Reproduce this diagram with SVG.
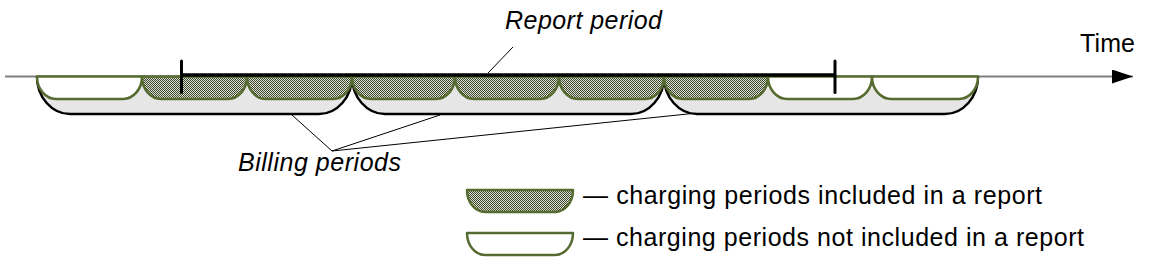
<svg xmlns="http://www.w3.org/2000/svg" width="1153" height="268" viewBox="0 0 1153 268">
  <style>
    .txt { font-family: "Liberation Sans", Arial, sans-serif; font-size: 25px; fill: #000; }
    .it { font-style: italic; }
    .billing { fill: #e6e6e6; stroke: #000; stroke-width: 2.5; }
    .chg { stroke: #556b2f; stroke-width: 2.5; stroke-linejoin: round; }
    .inc { fill: url(#hatch); }
    .exc { fill: #fff; }
    .lead { stroke: #000; stroke-width: 1; fill: none; }
  </style>
  <defs>
    <pattern id="hatch" width="2" height="2" patternUnits="userSpaceOnUse">
      <rect width="2" height="2" fill="#dcdcdc"/>
      <rect width="1" height="1" fill="#3f4a26"/>
      <rect x="1" y="1" width="1" height="1" fill="#3f4a26"/>
    </pattern>
    <marker id="arrow" markerWidth="22" markerHeight="14" refX="21" refY="7" orient="auto" markerUnits="userSpaceOnUse">
      <path d="M0,0 L21,7 L0,14 Z" fill="#000"/>
    </marker>
  </defs>

  <g id="connectors">
    <line id="time-axis" x1="5" y1="76.5" x2="1133" y2="76.5" stroke="#808080" stroke-width="2" marker-end="url(#arrow)"/>
    <line class="lead" x1="513" y1="47" x2="488" y2="73"/>
    <line class="lead" x1="332" y1="151" x2="292" y2="115"/>
    <line class="lead" x1="332" y1="151" x2="440" y2="115"/>
    <line class="lead" x1="332" y1="151" x2="697" y2="113"/>
  </g>

  <g id="billing-periods">
    <path class="billing" d="M37,76.5 A33,37.5 0 0 0 70,114 H319 A33,37.5 0 0 0 352,76.5"/>
    <path class="billing" d="M352,76.5 A33,37.5 0 0 0 385,114 H631 A33,37.5 0 0 0 664,76.5"/>
    <path class="billing" d="M664,76.5 A33,37.5 0 0 0 697,114 H945 A33,37.5 0 0 0 978,76.5"/>
  </g>

  <g id="charging-periods">
    <path class="chg exc" d="M37,76.5 A19,22.5 0 0 0 56,99 H123 A19,22.5 0 0 0 142,76.5 Z"/>
    <path class="chg inc" d="M142,76.5 A19,22.5 0 0 0 161,99 H228 A19,22.5 0 0 0 247,76.5 Z"/>
    <path class="chg inc" d="M247,76.5 A19,22.5 0 0 0 266,99 H333 A19,22.5 0 0 0 352,76.5 Z"/>
    <path class="chg inc" d="M352,76.5 A19,22.5 0 0 0 371,99 H436 A19,22.5 0 0 0 455,76.5 Z"/>
    <path class="chg inc" d="M455,76.5 A19,22.5 0 0 0 474,99 H540 A19,22.5 0 0 0 559,76.5 Z"/>
    <path class="chg inc" d="M559,76.5 A19,22.5 0 0 0 578,99 H645 A19,22.5 0 0 0 664,76.5 Z"/>
    <path class="chg inc" d="M664,76.5 A19,22.5 0 0 0 683,99 H749 A19,22.5 0 0 0 768,76.5 Z"/>
    <path class="chg exc" d="M768,76.5 A19,22.5 0 0 0 787,99 H853 A19,22.5 0 0 0 872,76.5 Z"/>
    <path class="chg exc" d="M872,76.5 A19,22.5 0 0 0 891,99 H959 A19,22.5 0 0 0 978,76.5 Z"/>
  </g>

  <g id="report-period">
    <line x1="181" y1="75" x2="835" y2="75" stroke="#000" stroke-width="3.5"/>
    <line x1="181.5" y1="61" x2="181.5" y2="92.5" stroke="#000" stroke-width="3" stroke-linecap="round"/>
    <line x1="835" y1="61" x2="835" y2="92.5" stroke="#000" stroke-width="3" stroke-linecap="round"/>
    <text class="txt it" x="505" y="29" textLength="157">Report period</text>
  </g>

  <g id="time-label">
    <text class="txt" x="1080" y="52" textLength="55">Time</text>
  </g>

  <g id="billing-label">
    <text class="txt it" x="238" y="171" textLength="163">Billing periods</text>
  </g>

  <g id="legend-included">
    <path class="chg inc" d="M467,190 A18,22 0 0 0 485,212 H555 A18,22 0 0 0 573,190 Z"/>
    <text class="txt" x="583" y="204" textLength="459">— charging periods included in a report</text>
  </g>

  <g id="legend-excluded">
    <path class="chg exc" d="M467,233 A18,22 0 0 0 485,255 H555 A18,22 0 0 0 573,233 Z"/>
    <text class="txt" x="583" y="246" textLength="501">— charging periods not included in a report</text>
  </g>
</svg>
